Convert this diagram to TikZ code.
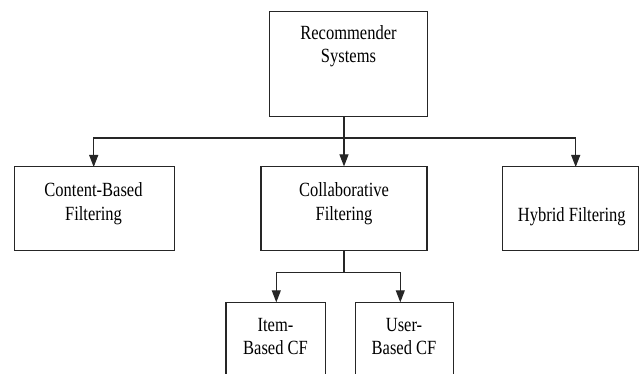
\documentclass[tikz,border=0pt]{standalone}
\usepackage{fontspec}
\setmainfont{Liberation Serif}
\usetikzlibrary{arrows.meta}
\newcommand{\tallt}[1]{\scalebox{1}[1.22]{\begin{tabular}{@{}c@{}}#1\end{tabular}}}
\begin{document}
\begin{tikzpicture}[x=1pt, y=-1pt,
  box/.style={draw=black!85, line width=1.1pt, rectangle, inner sep=0pt},
  txt/.style={inner sep=0pt, font=\fontsize{16.5}{19}\selectfont},
  link/.style={draw=black!85, line width=1.1pt},
  arr/.style={link, -{Triangle[length=12pt, width=9pt]}}]
\useasboundingbox (0,0) rectangle (639,374);
\clip (0,0) rectangle (639,374);
\node[box, minimum width=158, minimum height=104.7] (rs) at (348.5,64.3){};
\node[txt] (rs-t) at (348.5,46.5){\tallt{Recommender\\Systems}};
\node[box, minimum width=160, minimum height=83.7] (cb) at (94.7,208.8){};
\node[txt] (cb-t) at (93.5,203.8){\tallt{Content-Based\\Filtering}};
\node[box, minimum width=166, minimum height=83.7] (cf) at (344,208.8){};
\node[txt] (cf-t) at (344,203.8){\tallt{Collaborative\\Filtering}};
\node[box, minimum width=135.3, minimum height=83.7] (hf) at (570.4,208.8){};
\node[txt] (hf-t) at (571.8,216.7){\tallt{Hybrid Filtering}};
\node[box, minimum width=99.7, minimum height=100, anchor=north] (ib) at (275.8,302.3){};
\node[txt] (ib-t) at (275.5,338.2){\tallt{Item-\\Based CF}};
\node[box, minimum width=98, minimum height=100, anchor=north] (ub) at (404.3,302.3){};
\node[txt] (ub-t) at (404,338.2){\tallt{User-\\Based CF}};
\coordinate (bus) at (344,138);
\coordinate (cb-in) at (93.7,167);
\coordinate (hf-in) at (575.7,167);
\coordinate (sub) at (344,272.3);
\coordinate (ib-in) at (276.3,302.3);
\coordinate (ub-in) at (400.3,302.3);
\draw[link] (rs.south -| cf.north) -- (bus);
\draw[arr] (bus) -- (cf.north);
\draw[arr] (bus) -| (cb-in);
\draw[arr] (bus) -| (hf-in);
\draw[link] (cf.south) -- (sub);
\draw[arr] (sub) -| (ib-in);
\draw[arr] (sub) -| (ub-in);
\end{tikzpicture}
\end{document}
